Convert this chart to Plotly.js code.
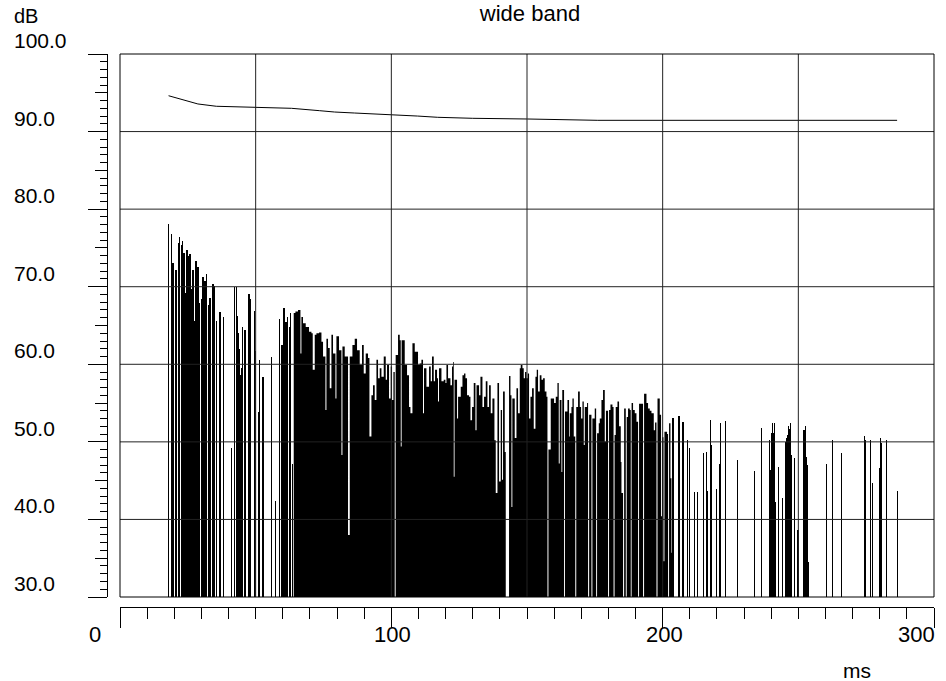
<!DOCTYPE html>
<html>
<head>
<meta charset="utf-8">
<script src="https://cdn.plot.ly/plotly-3.0.1.min.js"></script>
<style>
  html, body { margin: 0; padding: 0; background: #fff; }
  #chart { width: 946px; height: 681px; }
</style>
</head>
<body>
<div id="chart"></div>
<script>
// ---- data ----
const yTickValues = [100, 90, 80, 70, 60, 50, 40, 30];
const yTickLabels = ['100.0', '90.0', '80.0', '70.0', '60.0', '50.0', '40.0', '30.0'];
const xTickValues = [0, 100, 200, 300];
const xTickLabels = ['0', '100', '200', '300'];
const gridMs = [50, 100, 150, 200, 250];
const gridDb = [40, 50, 60, 70, 80, 90];

// upper smooth curve
const lineMs = [17.9, 26.9, 28.7, 35.5, 46.6, 63.2, 73.6, 79.1, 86.5, 93.9, 104.2, 109.7, 117.1, 130.0, 150.3, 176.1, 286.4];
const lineDb = [94.62, 93.73, 93.56, 93.26, 93.13, 93.0, 92.69, 92.52, 92.39, 92.26, 92.17, 92.0, 91.84, 91.71, 91.62, 91.45, 91.45];

// isolated spikes (early part and tail)
const spikeMs = [17.84, 19.06, 19.54, 20.64, 21.53, 21.89, 22.74, 23.0, 23.59, 24.22, 24.7, 24.95, 25.21, 25.5, 25.8, 26.05, 26.32, 26.6, 26.91, 27.53, 28.01, 28.75, 29.38, 30.0, 30.59, 31.33, 31.96, 32.8, 33.17, 34.28, 34.65, 35.53, 36.86, 38.11, 41.06, 42.17, 42.9, 43.27, 43.55, 43.86, 44.1, 44.38, 44.6, 44.86, 45.05, 45.23, 46.07, 47.55, 48.06, 49.54, 50.02, 51.24, 51.49, 52.71, 55.81, 57.39, 58.87, 59.71, 60.45, 61.19, 61.81, 62.44, 62.92, 63.55,
  203.83, 206.04, 207.51, 209.06, 209.8, 211.83, 212.68, 214.89, 216.07, 216.51, 217.73, 218.1, 219.68, 220.94, 221.31, 223.26, 227.57, 233.84, 236.53, 239.37, 239.59, 240.1, 240.47, 240.84, 241.21, 241.58, 242.68, 244.27, 245.11, 245.48, 245.85, 246.22, 246.59, 247.11, 247.59, 248.43, 249.69, 250.06, 251.75, 252.1, 252.49, 253.0, 253.3, 253.59, 260.37, 262.7, 265.9, 274.49, 274.86, 276.7, 277.44, 280.02, 280.28, 280.65, 282.6, 286.55];
const spikeDb = [78.1, 76.8, 73.1, 72.2, 75.7, 76.4, 75.4, 75.9, 74.3, 69.2, 74.7, 74.0, 73.9, 74.0, 74.2, 72.0, 69.7, 71.0, 72.2, 65.6, 73.3, 72.5, 67.9, 68.4, 71.3, 70.7, 71.6, 67.6, 68.6, 70.4, 70.1, 65.6, 66.7, 66.1, 49.2, 69.9, 69.9, 66.2, 64.0, 62.0, 60.0, 58.4, 58.6, 59.5, 60.0, 64.8, 64.4, 69.0, 68.4, 66.9, 61.7, 53.8, 60.6, 58.3, 60.9, 42.4, 65.9, 62.5, 67.3, 65.4, 66.1, 64.8, 66.6, 47.2,
  53.1, 53.3, 52.5, 50.3, 49.2, 43.5, 43.5, 48.6, 48.7, 43.7, 52.8, 49.6, 43.9, 47.1, 52.4, 52.7, 47.6, 46.2, 51.8, 50.2, 46.4, 51.1, 52.4, 51.1, 52.4, 42.3, 46.8, 42.8, 50.0, 50.5, 50.9, 52.0, 51.7, 52.4, 48.3, 47.9, 38.7, 38.7, 50.8, 51.5, 52.0, 48.0, 47.0, 34.5, 47.2, 50.3, 48.6, 50.8, 50.3, 50.2, 44.7, 46.6, 50.5, 49.8, 50.2, 43.7];

// dense central block (contiguous levels; 30 = empty column)
const denseMs = [64.03, 64.65, 65.61, 66.5, 66.86, 67.45, 68.45, 69.66, 70.55, 71.03, 71.77, 72.39, 73.35, 74.24, 74.83, 75.71, 76.08, 76.67, 77.3, 77.92, 78.51, 79.4, 79.76, 80.72, 81.61, 81.98, 82.82, 84.04, 84.67, 85.66, 86.51, 87.36, 88.35, 89.2, 89.83, 90.56, 91.41, 91.93, 92.66, 93.25, 93.88, 94.51, 95.1, 95.72, 96.35, 97.2, 97.94, 98.42, 99.15, 99.78, 100.26, 100.77, 101.25, 101.6, 102.47, 103.1, 103.47, 103.8, 104.94, 105.79, 106.52, 107.04, 107.78, 108.63, 109.25, 109.84, 110.47, 111.09, 111.68, 112.05, 112.94, 113.9, 114.52, 115.0, 115.63, 116.11, 116.85, 117.21, 117.58, 118.47, 119.31, 119.94, 120.31, 120.9, 121.78, 122.37, 122.74, 123.0, 123.3, 124.22, 124.6, 125.58, 126.21, 126.8, 127.31, 127.9, 128.64, 129.16, 129.75, 130.37, 131.0, 131.4, 132.33, 132.84, 133.58, 134.17, 134.8, 135.42, 136.01, 136.64, 137.26, 138.0, 138.48, 139.11, 139.7, 140.32, 140.8, 141.17, 141.8, 142.17, 143.38, 143.9, 144.27, 144.6, 145.48, 146.11, 146.7, 147.33, 147.7, 148.32, 148.8, 149.28, 149.8, 150.28, 150.76, 151.27, 151.86, 152.49, 153.11, 153.59, 154.07, 154.7, 155.33, 155.92, 156.54, 157.17, 157.54, 157.9, 158.75, 159.38, 159.97, 160.6, 161.22, 161.7, 162.05, 162.7, 163.0, 163.66, 164.0, 164.91, 165.5, 165.76, 166.38, 166.75, 167.23, 167.79, 168.15, 168.82, 169.45, 169.93, 170.44, 170.92, 171.3, 172.14, 172.51, 172.9, 173.75, 174.1, 174.97, 175.48, 175.82, 176.45, 176.82, 177.44, 178.03, 178.66, 179.1, 179.87, 180.24, 180.76, 181.49, 181.9, 182.27, 182.7, 183.34, 183.93, 184.56, 184.81, 185.4, 185.8, 186.4, 186.75, 187.24, 187.87, 188.24, 188.55, 189.09, 189.72, 190.34, 190.93, 191.3, 192.77, 193.15, 194.03, 194.62, 195.24, 195.87, 196.72, 197.2, 197.72, 198.1, 198.93, 199.41, 199.75, 200.3, 200.65, 201.62, 201.99, 202.36, 202.87, 203.24, 203.6];
const denseDb = [66.6, 66.8, 67.0, 61.4, 66.1, 65.3, 64.8, 64.2, 64.0, 59.3, 63.8, 64.0, 64.1, 62.9, 61.0, 54.1, 63.3, 62.1, 56.9, 63.8, 61.4, 55.6, 63.6, 61.8, 48.3, 62.3, 61.0, 38.0, 61.0, 62.5, 63.3, 61.8, 59.9, 62.5, 58.8, 61.4, 60.8, 50.7, 56.0, 57.3, 55.4, 60.6, 58.2, 59.5, 58.4, 61.0, 58.0, 59.9, 55.6, 59.7, 55.4, 59.0, 30, 61.2, 63.8, 63.1, 49.4, 63.1, 59.9, 58.6, 54.5, 53.7, 62.7, 61.6, 61.6, 59.9, 60.1, 60.6, 53.7, 59.5, 57.1, 59.7, 57.8, 61.0, 57.8, 59.3, 58.2, 55.2, 59.5, 57.8, 58.0, 57.6, 59.9, 58.2, 57.3, 59.7, 60.3, 45.5, 58.0, 53.0, 55.8, 57.1, 58.6, 58.8, 58.2, 56.0, 55.8, 52.8, 54.5, 57.6, 51.5, 57.3, 56.0, 58.4, 54.5, 55.8, 57.8, 54.5, 57.3, 53.7, 55.6, 50.2, 43.4, 57.6, 44.9, 54.1, 45.1, 56.5, 48.7, 30, 58.5, 56.0, 41.6, 55.6, 50.5, 56.9, 53.7, 59.5, 59.9, 59.5, 58.2, 59.0, 58.2, 58.8, 53.0, 55.8, 56.9, 51.7, 58.4, 59.3, 56.5, 58.6, 58.0, 58.2, 56.5, 55.8, 30, 49.0, 55.6, 55.6, 55.0, 55.8, 57.6, 47.2, 55.4, 46.1, 56.7, 30, 53.9, 55.4, 50.7, 53.7, 54.5, 55.6, 50.7, 30, 54.5, 56.5, 54.5, 53.0, 55.2, 49.6, 54.5, 55.0, 30, 53.5, 30, 53.0, 54.3, 30, 51.1, 52.4, 53.0, 55.4, 56.7, 50.0, 54.0, 30, 54.1, 54.8, 54.5, 30, 50.9, 54.5, 55.2, 52.0, 47.4, 43.4, 30, 54.3, 30, 53.2, 54.3, 54.1, 30, 55.0, 54.1, 53.7, 52.6, 30, 54.9, 30, 56.2, 55.0, 54.3, 54.0, 53.7, 51.5, 52.5, 30, 55.6, 53.5, 40.4, 50.6, 34.6, 51.3, 51.0, 30, 52.4, 45.3, 35.7, 30];

// ---- geometry (pixels of the reference) ----
const W = 946, H = 681;
const axisLeftPx = 107, plotLeftPx = 120, plotRightPx = 934;
const plotTopPx = 54, plotBottomPx = 597, axisBottomPx = 607;
const paperW = plotRightPx - axisLeftPx, paperH = axisBottomPx - plotTopPx;
const pxX = p => (p - axisLeftPx) / paperW;
const pxY = p => (axisBottomPx - p) / paperH;

const FONT = 'Liberation Sans, Arial, sans-serif';
const BLACK = '#000000';

const traces = [
  {
    type: 'scatter', mode: 'lines', x: denseMs, y: denseDb,
    line: { shape: 'hv', width: 0, color: BLACK },
    fill: 'tozeroy', fillcolor: BLACK, hoverinfo: 'skip', showlegend: false
  },
  {
    type: 'bar', x: spikeMs, y: spikeDb, width: 0.42,
    marker: { color: BLACK, line: { width: 0 } }, showlegend: false
  },
  {
    type: 'scatter', mode: 'lines', x: lineMs, y: lineDb,
    line: { color: BLACK, width: 1 }, showlegend: false
  },
  { // dummy for secondary y ticks (half-decades)
    type: 'scatter', mode: 'markers', x: [null], y: [null], yaxis: 'y2', showlegend: false
  }
];

const shapes = [];
gridMs.forEach(v => shapes.push({ type: 'line', xref: 'x', yref: 'y domain', x0: v, x1: v, y0: 0, y1: 1, line: { color: '#222', width: 1 }, layer: 'above' }));
gridDb.forEach(v => shapes.push({ type: 'line', xref: 'x domain', yref: 'y', x0: 0, x1: 1, y0: v, y1: v, line: { color: '#222', width: 1 }, layer: 'above' }));
shapes.push({ type: 'rect', xref: 'x domain', yref: 'y domain', x0: 0, x1: 1, y0: 0, y1: 1, line: { color: BLACK, width: 1 }, layer: 'above' });

const annotations = [];
yTickValues.forEach((v, i) => annotations.push({
  text: yTickLabels[i], xref: 'paper', x: pxX(12), xanchor: 'left',
  yref: 'y', y: v, yanchor: 'bottom', yshift: 0, showarrow: false,
  font: { family: FONT, size: 21, color: BLACK }
}));
const xShift = [-17, 1, 2, 3];
const xAnchor = ['right', 'center', 'center', 'right'];
xTickValues.forEach((v, i) => annotations.push({
  text: xTickLabels[i], xref: 'x', x: v, xanchor: xAnchor[i], xshift: xShift[i],
  yref: 'paper', y: pxY(634), yanchor: 'middle', showarrow: false,
  font: { family: FONT, size: 22, color: BLACK }
}));
annotations.push({ text: 'dB', xref: 'paper', x: pxX(12), xanchor: 'left', yref: 'paper', y: pxY(29), yanchor: 'bottom', showarrow: false, font: { family: FONT, size: 20, color: BLACK } });
annotations.push({ text: 'ms', xref: 'paper', x: pxX(857), xanchor: 'center', yref: 'paper', y: pxY(670), yanchor: 'middle', showarrow: false, font: { family: FONT, size: 21, color: BLACK } });

const layout = {
  width: W, height: H,
  margin: { l: axisLeftPx, r: W - plotRightPx, t: plotTopPx, b: H - axisBottomPx, pad: 0 },
  paper_bgcolor: '#fff', plot_bgcolor: '#fff',
  title: { text: 'wide band', xref: 'paper', x: pxX(530), xanchor: 'center', yref: 'container', y: 1 - 13 / H, yanchor: 'middle', font: { family: FONT, size: 22, color: BLACK } },
  bargap: 0,
  xaxis: {
    domain: [pxX(plotLeftPx), 1], range: [0, 300], anchor: 'free', position: 0,
    showline: true, linecolor: BLACK, linewidth: 1, showgrid: false, zeroline: false,
    ticks: 'outside', dtick: 100, tick0: 0, ticklen: 20, tickcolor: BLACK, tickwidth: 1,
    minor: { dtick: 10, ticks: 'outside', ticklen: 11, tickcolor: BLACK, tickwidth: 1, showgrid: false },
    showticklabels: false, fixedrange: true
  },
  yaxis: {
    domain: [pxY(plotBottomPx), 1], range: [30, 100], anchor: 'free', position: 0,
    showline: true, linecolor: BLACK, linewidth: 1, showgrid: false, zeroline: false,
    ticks: 'outside', dtick: 10, tick0: 0, ticklen: 19, tickcolor: BLACK, tickwidth: 1,
    minor: { dtick: 1, ticks: 'outside', ticklen: 7, tickcolor: BLACK, tickwidth: 1, showgrid: false },
    showticklabels: false, fixedrange: true
  },
  yaxis2: {
    overlaying: 'y', domain: [pxY(plotBottomPx), 1], range: [30, 100], anchor: 'free', position: 0,
    showline: false, showgrid: false, zeroline: false,
    ticks: 'outside', tickvals: [35, 45, 55, 65, 75, 85, 95], ticklen: 12, tickcolor: BLACK, tickwidth: 1,
    showticklabels: false, fixedrange: true
  },
  shapes: shapes,
  annotations: annotations,
  showlegend: false
};

Plotly.newPlot('chart', traces, layout, { displayModeBar: false, staticPlot: true });
</script>
</body>
</html>
